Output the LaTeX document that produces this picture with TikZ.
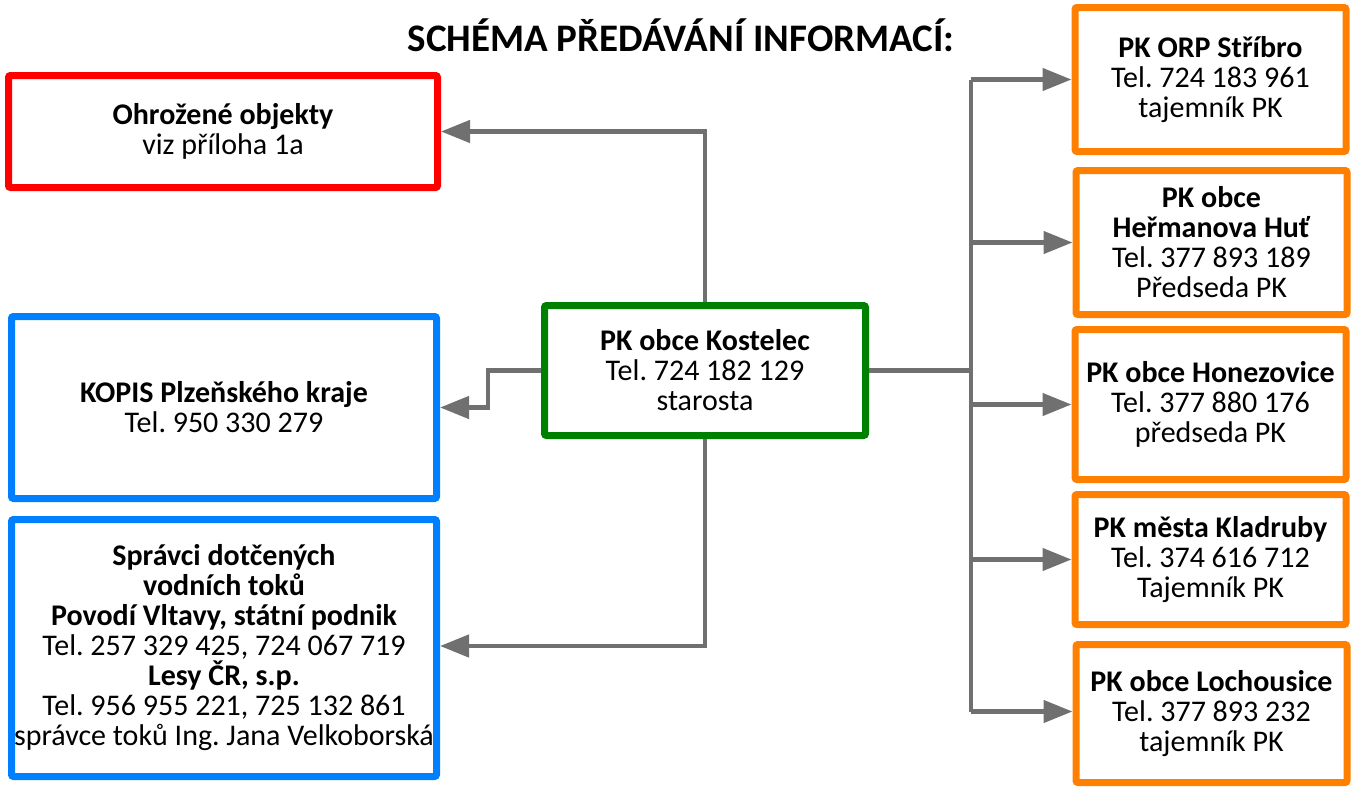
\documentclass[tikz,border=0pt]{standalone}
\usepackage{fontspec}
\setmainfont{Carlito}
\usepackage{tikz}
\usetikzlibrary{positioning, arrows.meta, calc}
\frenchspacing

\definecolor{boxred}{HTML}{FF0000}
\definecolor{boxblue}{HTML}{0080FF}
\definecolor{boxgreen}{HTML}{008000}
\definecolor{boxorange}{HTML}{FF8000}
\definecolor{linegray}{HTML}{707070}

\begin{document}
\begin{tikzpicture}[
  x=1pt, y=-1pt,
  infobox/.style={draw, line width=7pt, rounded corners=2pt, inner sep=0pt,
              align=center, font=\fontsize{30}{30}\selectfont, fill=white},
  redbox/.style={infobox, draw=boxred},
  bluebox/.style={infobox, draw=boxblue},
  greenbox/.style={infobox, draw=boxgreen},
  orangebox/.style={infobox, draw=boxorange, minimum width=271pt},
  conn/.style={draw=linegray, line width=4.5pt},
  >={Triangle[length=29pt, width=22pt]}
]
  \useasboundingbox (0,0) rectangle (1360,787);

  % Title
  \node[font=\fontsize{39}{39}\selectfont\bfseries] (title) at (681,35)
    {SCHÉMA PŘEDÁVÁNÍ INFORMACÍ:};

  % Left column
  \node[redbox, minimum width=429pt, minimum height=112pt] (ohr) at (223,131.5)
    {\textbf{Ohrožené objekty}\\viz příloha 1a};
  \node[bluebox, minimum width=425pt, minimum height=182pt] (kopis) at (224,407.5)
    {\textbf{KOPIS Plzeňského kraje}\\Tel. 950 330 279};
  \node[bluebox, minimum width=425pt, minimum height=257pt] (spr) at (224,648)
    {\textbf{Správci dotčených}\\\textbf{vodních toků}\\
     \textbf{Povodí Vltavy, státní podnik}\\Tel. 257 329 425, 724 067 719\\
     \textbf{Lesy ČR, s.p.}\\Tel. 956 955 221, 725 132 861\\
     správce toků Ing. Jana Velkoborská};

  % Centre
  \node[greenbox, minimum width=321pt, minimum height=130pt] (kost) at (705,370.5)
    {\textbf{PK obce Kostelec}\\Tel. 724 182 129\\starosta};

  % Right column
  \node[orangebox, minimum height=144pt] (orp) at (1210.5,79.5)
    {\textbf{PK ORP Stříbro}\\Tel. 724 183 961\\tajemník PK};
  \node[orangebox, minimum height=144pt] (herm) at (1211.5,242.5)
    {\textbf{PK obce}\\\textbf{Heřmanova Huť}\\Tel. 377 893 189\\Předseda PK};
  \node[orangebox, minimum height=150pt] (hon) at (1210.5,404.5)
    {\textbf{PK obce Honezovice}\\Tel. 377 880 176\\předseda PK};
  \node[orangebox, minimum height=130pt] (klad) at (1210.5,559.5)
    {\textbf{PK města Kladruby}\\Tel. 374 616 712\\Tajemník PK};
  \node[orangebox, minimum height=138pt] (loch) at (1211.5,713.5)
    {\textbf{PK obce Lochousice}\\Tel. 377 893 232\\tajemník PK};

  % Connectors to the left
  \draw[conn, ->] (kost.north) |- (ohr.east);
  \draw[conn, ->] (kost.west) -- ++(-53,0) |- (kopis.east);
  \draw[conn, ->] (kost.south) |- ([yshift=2pt]spr.east);

  % Connectors to the right
  \coordinate (bus) at (971,370.5);
  \draw[conn] (kost.east) -- (bus);
  \draw[conn] (orp.west -| bus) -- ([yshift=2pt]loch.west -| bus);
  \foreach \n in {orp, herm, hon, klad} {
    \draw[conn, ->] (\n.west -| bus) -- (\n.west);
  }
  \draw[conn, ->] ([yshift=2pt]loch.west -| bus) -- ([yshift=2pt]loch.west);
\end{tikzpicture}
\end{document}
